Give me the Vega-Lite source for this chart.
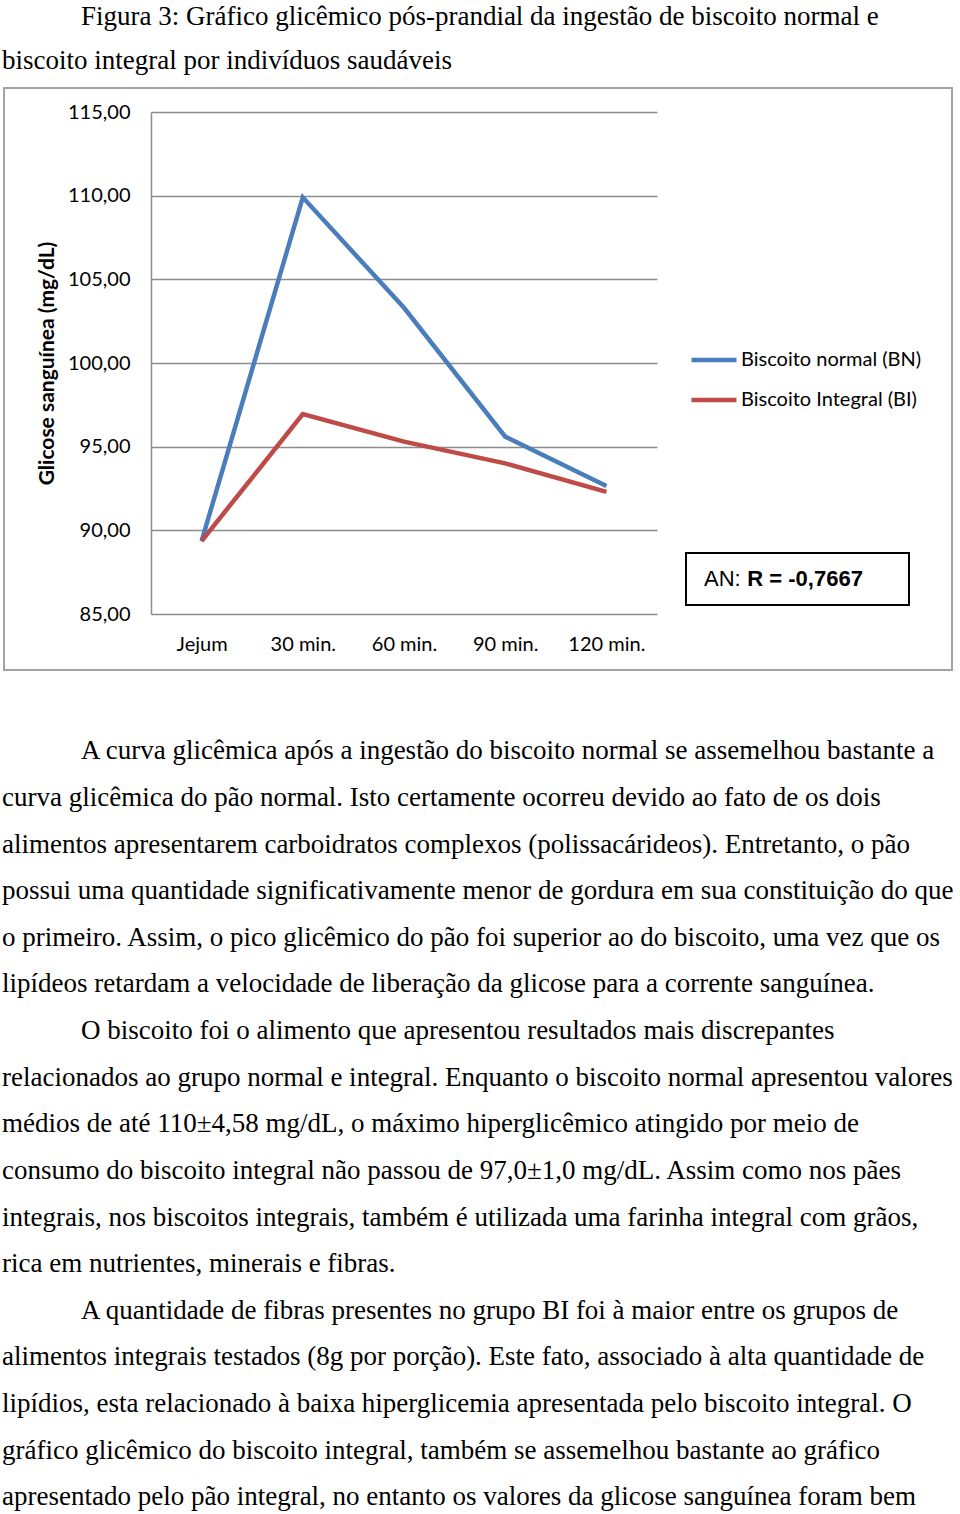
{
  "$schema": "https://vega.github.io/schema/vega-lite/v6.json",
  "width": 506,
  "height": 502,
  "autosize": {"type": "none"},
  "padding": {"left": 151, "top": 112, "right": 303, "bottom": 900},
  "background": "white",
  "config": {
    "view": {"stroke": null},
    "axis": {"labelFont": "Lato", "labelFontSize": 20, "labelColor": "#000000", "titleFont": "Lato", "titleFontSize": 21, "titleColor": "#000000"}
  },
  "datasets": {
    "glicemia": [
      {"tempo": 0, "grupo": "Biscoito normal (BN)", "glicose": 89.36},
      {"tempo": 30, "grupo": "Biscoito normal (BN)", "glicose": 109.9},
      {"tempo": 60, "grupo": "Biscoito normal (BN)", "glicose": 103.3},
      {"tempo": 90, "grupo": "Biscoito normal (BN)", "glicose": 95.6},
      {"tempo": 120, "grupo": "Biscoito normal (BN)", "glicose": 92.65},
      {"tempo": 0, "grupo": "Biscoito Integral (BI)", "glicose": 89.36},
      {"tempo": 30, "grupo": "Biscoito Integral (BI)", "glicose": 96.95},
      {"tempo": 60, "grupo": "Biscoito Integral (BI)", "glicose": 95.3},
      {"tempo": 90, "grupo": "Biscoito Integral (BI)", "glicose": 94.0},
      {"tempo": 120, "grupo": "Biscoito Integral (BI)", "glicose": 92.3}
    ],
    "legenda": [
      {"linha": 0, "recuo": true, "texto": "Figura 3: Gráfico glicêmico pós-prandial da ingestão de biscoito normal e"},
      {"linha": 1, "recuo": false, "texto": "biscoito integral por indivíduos saudáveis"}
    ],
    "corpo": [
      {"linha": 0, "recuo": true, "texto": "A curva glicêmica após a ingestão do biscoito normal se assemelhou bastante a"},
      {"linha": 1, "recuo": false, "texto": "curva glicêmica do pão normal. Isto certamente ocorreu devido ao fato de os dois"},
      {"linha": 2, "recuo": false, "texto": "alimentos apresentarem carboidratos complexos (polissacárideos). Entretanto, o pão"},
      {"linha": 3, "recuo": false, "texto": "possui uma quantidade significativamente menor de gordura em sua constituição do que"},
      {"linha": 4, "recuo": false, "texto": "o primeiro. Assim, o pico glicêmico do pão foi superior ao do biscoito, uma vez que os"},
      {"linha": 5, "recuo": false, "texto": "lipídeos retardam a velocidade de liberação da glicose para a corrente sanguínea."},
      {"linha": 6, "recuo": true, "texto": "O biscoito foi o alimento que apresentou resultados mais discrepantes"},
      {"linha": 7, "recuo": false, "texto": "relacionados ao grupo normal e integral. Enquanto o biscoito normal apresentou valores"},
      {"linha": 8, "recuo": false, "texto": "médios de até 110±4,58 mg/dL, o máximo hiperglicêmico atingido por meio de"},
      {"linha": 9, "recuo": false, "texto": "consumo do biscoito integral não passou de 97,0±1,0 mg/dL. Assim como nos pães"},
      {"linha": 10, "recuo": false, "texto": "integrais, nos biscoitos integrais, também é utilizada uma farinha integral com grãos,"},
      {"linha": 11, "recuo": false, "texto": "rica em nutrientes, minerais e fibras."},
      {"linha": 12, "recuo": true, "texto": "A quantidade de fibras presentes no grupo BI foi à maior entre os grupos de"},
      {"linha": 13, "recuo": false, "texto": "alimentos integrais testados (8g por porção). Este fato, associado à alta quantidade de"},
      {"linha": 14, "recuo": false, "texto": "lipídios, esta relacionado à baixa hiperglicemia apresentada pelo biscoito integral. O"},
      {"linha": 15, "recuo": false, "texto": "gráfico glicêmico do biscoito integral, também se assemelhou bastante ao gráfico"},
      {"linha": 16, "recuo": false, "texto": "apresentado pelo pão integral, no entanto os valores da glicose sanguínea foram bem"}
    ]
  },
  "layer": [
    {
      "layer": [
        {
          "data": {"values": [{}]},
          "mark": {"type": "rect", "fill": "white", "fillOpacity": 0, "stroke": "#a3a3a3", "strokeWidth": 2},
          "encoding": {
            "x": {"datum": -58.58, "type": "quantitative"},
            "x2": {"datum": 222.45},
            "y": {"datum": 116.43, "type": "quantitative"},
            "y2": {"datum": 81.65}
          }
        },
        {
          "data": {"name": "glicemia"},
          "mark": {"type": "line", "strokeWidth": 4.5, "strokeJoin": "miter"},
          "encoding": {
            "x": {
              "field": "tempo", "type": "quantitative",
              "scale": {"domain": [-15, 135], "nice": false, "zero": false},
              "axis": {
                "values": [0, 30, 60, 90, 120],
                "labelExpr": "datum.value == 0 ? 'Jejum' : datum.value + ' min.'",
                "title": null, "domain": false, "ticks": false, "grid": false,
                "labelPadding": 20
              }
            },
            "y": {
              "field": "glicose", "type": "quantitative",
              "scale": {"domain": [85, 115], "nice": false, "zero": false},
              "axis": {
                "values": [85, 90, 95, 100, 105, 110, 115],
                "labelExpr": "replace(format(datum.value, '.2f'), '.', ',')",
                "title": "Glicose sanguínea (mg/dL)",
                "titleFontWeight": "bold",
                "titlePadding": 10,
                "ticks": false,
                "labelPadding": 21,
                "domainColor": "#8c8c8c", "domainWidth": 1.5,
                "grid": true, "gridColor": "#8c8c8c", "gridWidth": 1.5
              }
            },
            "color": {
              "field": "grupo", "type": "nominal",
              "scale": {"domain": ["Biscoito normal (BN)", "Biscoito Integral (BI)"], "range": ["#4a7ebb", "#be4b48"]},
              "legend": {
                "title": null, "orient": "none", "legendX": 538, "legendY": 223,
                "symbolType": "stroke", "symbolSize": 2025, "symbolStrokeWidth": 4.5,
                "labelFont": "Lato", "labelFontSize": 20, "labelColor": "#000000", "labelLimit": 0,
                "labelOffset": 2, "rowPadding": 5
              }
            }
          }
        },
        {
          "data": {"values": [{}]},
          "mark": {"type": "rect", "fill": "white", "stroke": "#000000", "strokeWidth": 2},
          "encoding": {
            "x": {"datum": 143.6, "type": "quantitative"},
            "x2": {"datum": 209.7},
            "y": {"datum": 88.645, "type": "quantitative"},
            "y2": {"datum": 85.537}
          }
        },
        {
          "data": {"values": [{}]},
          "mark": {"type": "text", "text": "AN:", "font": "Liberation Sans", "fontSize": 22, "align": "left", "baseline": "alphabetic", "color": "#000000"},
          "encoding": {
            "x": {"datum": 148.93, "type": "quantitative"},
            "y": {"datum": 86.65, "type": "quantitative"}
          }
        },
        {
          "data": {"values": [{}]},
          "mark": {"type": "text", "text": "R = -0,7667", "font": "Liberation Sans", "fontSize": 22, "fontWeight": "bold", "align": "left", "baseline": "alphabetic", "color": "#000000"},
          "encoding": {
            "x": {"datum": 161.77, "type": "quantitative"},
            "y": {"datum": 86.65, "type": "quantitative"}
          }
        }
      ]
    },
    {
      "data": {"name": "legenda"},
      "layer": [
        {
          "transform": [{"filter": "datum.recuo"}],
          "mark": {"type": "text", "font": "Liberation Serif", "fontSize": 27, "align": "left", "baseline": "alphabetic", "color": "#000000"},
          "encoding": {
            "x": {"datum": -35.75, "type": "quantitative"},
            "y": {"field": "linha", "type": "quantitative", "scale": {"domain": [1.9886, 13.398], "reverse": true, "nice": false, "zero": false}, "axis": null},
            "text": {"field": "texto"}
          }
        },
        {
          "transform": [{"filter": "!datum.recuo"}],
          "mark": {"type": "text", "font": "Liberation Serif", "fontSize": 27, "align": "left", "baseline": "alphabetic", "color": "#000000"},
          "encoding": {
            "x": {"datum": -59.17, "type": "quantitative"},
            "y": {"field": "linha", "type": "quantitative", "axis": null},
            "text": {"field": "texto"}
          }
        }
      ]
    },
    {
      "data": {"name": "corpo"},
      "layer": [
        {
          "transform": [{"filter": "datum.recuo"}],
          "mark": {"type": "text", "font": "Liberation Serif", "fontSize": 27, "align": "left", "baseline": "alphabetic", "color": "#000000"},
          "encoding": {
            "x": {"datum": -35.75, "type": "quantitative"},
            "y": {"field": "linha", "type": "quantitative", "scale": {"domain": [-13.883, -3.1164], "reverse": true, "nice": false, "zero": false}, "axis": null},
            "text": {"field": "texto"}
          }
        },
        {
          "transform": [{"filter": "!datum.recuo"}],
          "mark": {"type": "text", "font": "Liberation Serif", "fontSize": 27, "align": "left", "baseline": "alphabetic", "color": "#000000"},
          "encoding": {
            "x": {"datum": -59.17, "type": "quantitative"},
            "y": {"field": "linha", "type": "quantitative", "axis": null},
            "text": {"field": "texto"}
          }
        }
      ]
    }
  ],
  "resolve": {"scale": {"y": "independent"}}
}
